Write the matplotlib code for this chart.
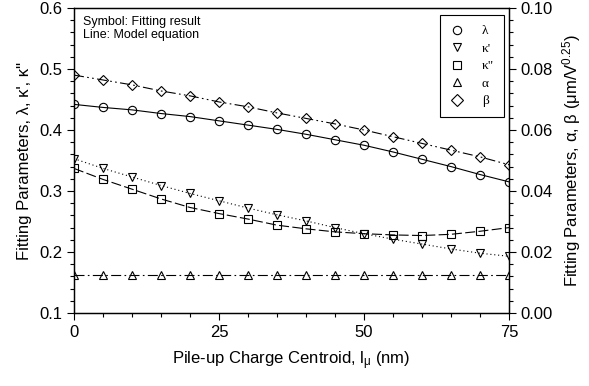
import matplotlib
matplotlib.use('Agg')
import matplotlib.pyplot as plt
from matplotlib.lines import Line2D
from matplotlib.ticker import MultipleLocator

plt.rcParams['font.family'] = ['Liberation Sans', 'DejaVu Sans']
plt.rcParams['mathtext.fontset'] = 'custom'
plt.rcParams['mathtext.rm'] = 'Liberation Sans'
plt.rcParams['mathtext.it'] = 'Liberation Sans:italic'

# pile-up charge centroid (nm)
x = [0, 5, 10, 15, 20, 25, 30, 35, 40, 45, 50, 55, 60, 65, 70, 75]

# left axis
lam = [0.442, 0.437, 0.433, 0.427, 0.422, 0.415, 0.408, 0.401,
       0.393, 0.384, 0.375, 0.364, 0.352, 0.340, 0.327, 0.315]
kap1 = [0.353, 0.337, 0.323, 0.309, 0.296, 0.284, 0.272, 0.261,
        0.251, 0.240, 0.230, 0.221, 0.213, 0.205, 0.198, 0.193]
kap2 = [0.337, 0.319, 0.303, 0.287, 0.273, 0.263, 0.254, 0.244,
        0.238, 0.233, 0.230, 0.228, 0.227, 0.229, 0.234, 0.240]

# right axis
alpha = [0.0124] * 16
beta = [0.0780, 0.0764, 0.0748, 0.0728, 0.0712, 0.0692, 0.0676, 0.0656,
        0.0638, 0.0620, 0.0600, 0.0578, 0.0556, 0.0534, 0.0512, 0.0486]

names = ['λ', "κ'", 'κ"', 'α', 'β']
marks = ['o', 'v', 's', '^', 'D']

fig = plt.figure(figsize=(5.89, 3.86), dpi=100)
ax = fig.add_axes([74/589, 1-313/386, 435/589, 305/386])
ax2 = ax.twinx()

mk = dict(color='k', lw=0.8, mfc='none', mec='k', mew=0.8)
ax.plot(x, lam, ls='-', marker='o', ms=6, **mk)
ax.plot(x, kap1, ls=(0, (1, 2.5)), marker='v', ms=6, **mk)
ax.plot(x, kap2, ls=(0, (9, 3)), marker='s', ms=5.5, **mk)
ax2.plot(x, alpha, ls=(0, (9, 3, 1.5, 3)), marker='^', ms=6, **mk)
ax2.plot(x, beta, ls=(0, (9, 3, 1.5, 3, 1.5, 3)), marker='D', ms=5, **mk)

ax.set_xlim(0, 75)
ax.set_ylim(0.1, 0.6)
ax2.set_ylim(0, 0.1)

ax.xaxis.set_major_locator(MultipleLocator(25))
ax.xaxis.set_minor_locator(MultipleLocator(5))
ax.yaxis.set_major_locator(MultipleLocator(0.1))
ax.yaxis.set_minor_locator(MultipleLocator(0.02))
ax2.yaxis.set_major_locator(MultipleLocator(0.02))
ax2.yaxis.set_minor_locator(MultipleLocator(0.004))
ax.yaxis.set_major_formatter(plt.FormatStrFormatter('%.1f'))
ax2.yaxis.set_major_formatter(plt.FormatStrFormatter('%.2f'))

for a in (ax, ax2):
    a.tick_params(which='major', direction='out', length=5, width=0.8, labelsize=12)
    a.tick_params(which='minor', direction='out', length=3, width=0.8)
    for s in a.spines.values():
        s.set_linewidth(0.9)

ax.set_xlabel(r'Pile-up Charge Centroid, l$_\mathrm{μ}$ (nm)', fontsize=12, labelpad=7)
ax.set_ylabel('Fitting Parameters, λ, κ\', κ"', fontsize=12, labelpad=5)
ax2.set_ylabel(r'Fitting Parameters, α, β (μm/V$^\mathrm{0.25}$)', fontsize=12, labelpad=5)

ax.text(0.02, 0.975, 'Symbol: Fitting result\nLine: Model equation',
        transform=ax.transAxes, va='top', ha='left', fontsize=9, linespacing=1.15)

handles = [Line2D([], [], ls='none', marker=m, mfc='none', mec='k', mew=0.8, ms=6)
           for m in marks]
leg = ax2.legend(handles, names, loc='upper right',
                 bbox_to_anchor=(504/589, 1-15/386), bbox_transform=fig.transFigure,
                 frameon=True, fancybox=False, edgecolor='k', framealpha=1,
                 prop={'family': 'Liberation Serif', 'size': 9.5},
                 handlelength=1.0, handletextpad=1.4, borderpad=0.75,
                 labelspacing=0.4, borderaxespad=0)
leg.get_frame().set_linewidth(0.8)

fig.savefig('out.png', dpi=100)
